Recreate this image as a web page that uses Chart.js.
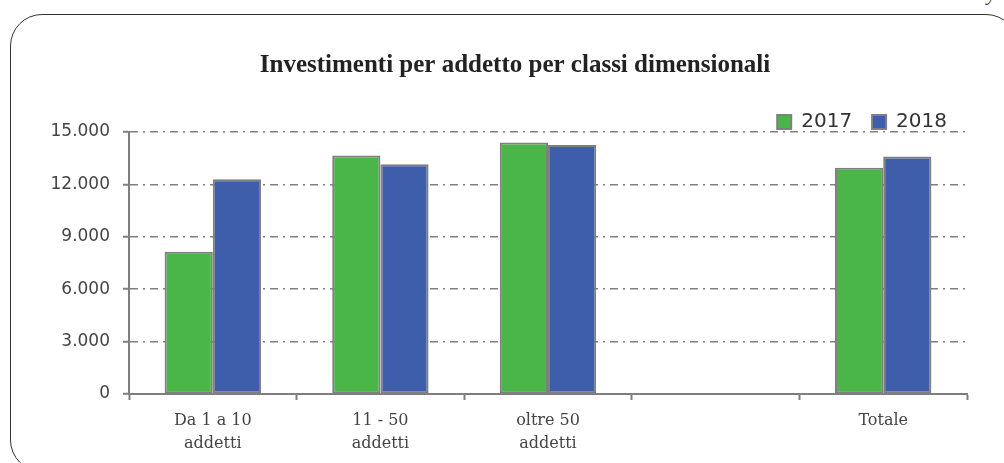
<!DOCTYPE html>
<html>
<head>
<meta charset="utf-8">
<script src="https://cdn.jsdelivr.net/npm/chart.js@4.4.1/dist/chart.umd.min.js"></script>
<style>
  html, body { margin: 0; padding: 0; background: #fff; overflow: hidden; }
  body { width: 1004px; height: 463px; position: relative; }
  #cornice {
    position: absolute; left: 10px; top: 14px; width: 1006px; height: 456px;
    border: 1.5px solid #333; border-radius: 32px;
  }
  #frammento {
    position: absolute; left: 987px; top: -18px;
    font: italic 20px "Liberation Serif", serif; color: #333;
  }
  #grafico { position: absolute; left: 26px; top: 0; }
</style>
</head>
<body>
<div id="cornice"></div>
<span id="frammento">y</span>
<canvas id="grafico" width="978" height="463"></canvas>
<script>
// Dati
const categorie = [['Da 1 a 10', 'addetti'], ['11 - 50', 'addetti'], ['oltre 50', 'addetti'], '', 'Totale'];
const anni = ['2017', '2018'];
const valori2017 = [8150, 13650, 14400, null, 12950];
const valori2018 = [12300, 13150, 14250, null, 13600];
const tickY = [0, 3000, 6000, 9000, 12000, 15000];

const VERDE = '#4ab649';
const BLU = '#3e5daa';
const GRIGIO = '#7f7f7f';

// formato italiano con il punto per le migliaia
const formatoIT = (v) => String(v).replace(/\B(?=(\d{3})+(?!\d))/g, '.');

// legenda un po' piu' bassa e titolo centrato su tutta la tela
const ritocchi = {
    id: 'ritocchi',
    beforeInit(chart) {
        const legenda = chart.legend;
        if (legenda) {
            const fitOrig = legenda.fit.bind(legenda);
            legenda.fit = function () {
                fitOrig();
                this.height -= 10;
            };
        }
    },
    afterLayout(chart) {
        if (chart.titleBlock) chart.titleBlock.right = chart.width;
    }
};

new Chart(document.getElementById('grafico'), {
    type: 'bar',
    data: {
        labels: categorie,
        datasets: [
            { label: anni[0], data: valori2017, backgroundColor: VERDE, borderColor: GRIGIO, borderWidth: 2, borderSkipped: false },
            { label: anni[1], data: valori2018, backgroundColor: BLU, borderColor: GRIGIO, borderWidth: 2, borderSkipped: false }
        ]
    },
    plugins: [ritocchi],
    options: {
        responsive: false,
        devicePixelRatio: 1,
        animation: false,
        layout: { padding: { left: 0, right: 37, top: 0, bottom: 0 } },
        datasets: { bar: { categoryPercentage: 0.575, barPercentage: 1 } },
        plugins: {
            title: {
                display: true,
                text: 'Investimenti per addetto per classi dimensionali',
                color: '#222',
                font: { family: '"Liberation Serif", serif', size: 25, weight: 'bold' },
                padding: { top: 51, bottom: 11 }
            },
            legend: {
                display: true,
                position: 'top',
                align: 'end',
                labels: {
                    color: '#333',
                    font: { family: '"DejaVu Sans", sans-serif', size: 20 },
                    boxWidth: 14,
                    boxHeight: 14,
                    padding: 20
                }
            },
            tooltip: { enabled: false }
        },
        scales: {
            x: {
                offset: true,
                grid: { display: true, offset: true, drawOnChartArea: false, drawTicks: true, tickLength: 6, tickColor: GRIGIO, tickWidth: 2 },
                border: { display: true, color: GRIGIO, width: 2 },
                ticks: {
                    color: '#444',
                    font: { family: '"DejaVu Serif", serif', size: 16, lineHeight: 1.4 },
                    padding: 10,
                    maxRotation: 0,
                    autoSkip: false
                },
                afterFit: (scale) => { scale.height = 69; }
            },
            y: {
                min: 0,
                max: 15000,
                afterBuildTicks: (scale) => { scale.ticks = tickY.map(v => ({ value: v })); },
                grid: { color: GRIGIO, lineWidth: 1.5, drawTicks: true, tickLength: 6, tickColor: GRIGIO, tickWidth: 2 },
                border: { display: true, color: GRIGIO, width: 2, dash: [8, 5, 2, 5] },
                ticks: {
                    color: '#444',
                    font: { family: '"DejaVu Sans", sans-serif', size: 17 },
                    padding: 13,
                    callback: (v) => formatoIT(v)
                },
                afterFit: (scale) => { scale.width = 103; }
            }
        }
    }
});
</script>
</body>
</html>
